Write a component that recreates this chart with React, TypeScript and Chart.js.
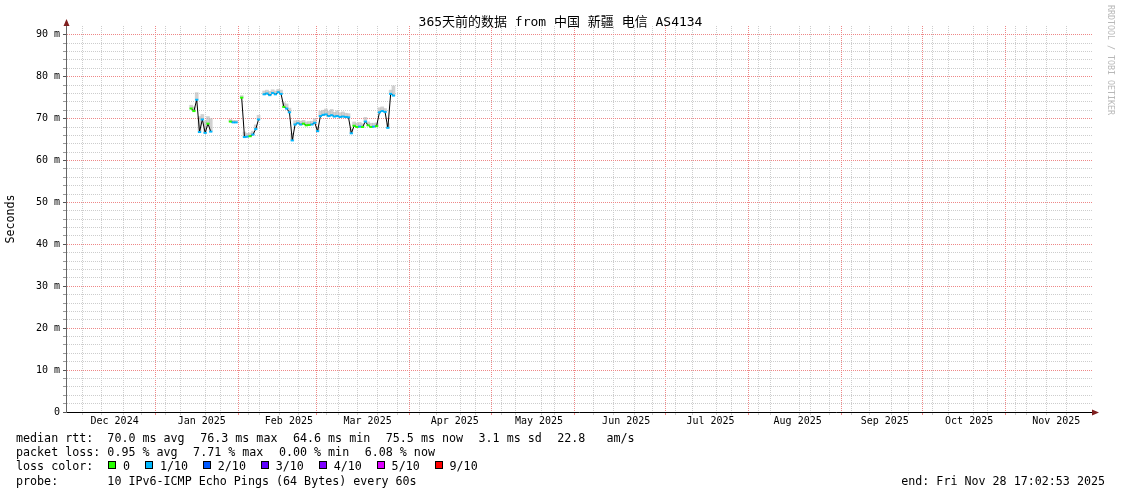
import React, { useEffect, useRef } from 'react';
import { Chart, registerables } from 'chart.js';

Chart.register(...registerables);

// ---------------- texts ----------------
const TITLE = '365天前的数据 from 中国 新疆 电信 AS4134';
const Y_TITLE = 'Seconds';
const WATERMARK = 'RRDTOOL / TOBI OETIKER';

// ---------------- time axis ----------------
const DAY_MS = 86400000;
const GRAPH_START_UTC = Date.UTC(2024, 10, 28, 17, 2, 53); // 365 days before "end"
const GRAPH_SPAN_DAYS = 365;
const MONTH_LABELS = ['Dec 2024', 'Jan 2025', 'Feb 2025', 'Mar 2025', 'Apr 2025', 'May 2025', 'Jun 2025', 'Jul 2025', 'Aug 2025', 'Sep 2025', 'Oct 2025', 'Nov 2025'];
const MONTH_YEARS = [2024, 2025, 2025, 2025, 2025, 2025, 2025, 2025, 2025, 2025, 2025, 2025];
const MONTH_INDEX = [11, 0, 1, 2, 3, 4, 5, 6, 7, 8, 9, 10];
const WEEK_STEP_DAYS = 7;
const LABEL_OFFSET_DAYS = 15;

// ---------------- value axis ----------------
const Y_MAX = 92.1;
const Y_LABELLED = [0, 10, 20, 30, 40, 50, 60, 70, 80, 90];
const Y_MINOR_STEP = 2;

// ---------------- series (one sample per day, from day 44.5 of the graph) ----------------
const SAMPLE_START_DAY = 44.5;
const SAMPLE_STEP_DAYS = 1;
const medianRtt: (number | null)[] = [
  72.4, 71.8, 74.5, 66.8, 69.8, 66.6, 68.8, 66.9, null, null,
  null, null, null, null, 69.3, 69.1, 69.1, null, 75.0, 65.6,
  65.7, 65.8, 66.2, 67.5, 69.8, null, 75.8, 76.0, 75.6, 76.1,
  75.8, 76.3, 75.9, 72.8, 72.4, 71.5, 64.8, 68.6, 68.9, 68.6,
  68.8, 68.4, 68.5, 68.6, 69.0, 67.0, 70.6, 70.9, 71.0, 70.6,
  70.8, 70.5, 70.6, 70.4, 70.5, 70.4, 70.3, 66.5, 68.3, 68.0,
  68.1, 68.0, 69.3, 68.4, 68.0, 68.1, 68.2, 71.5, 71.8, 71.6,
  67.8, 75.9, 75.5,
];
const smokeTop: (number | null)[] = [
  73.2, 72.8, 76.2, 70.5, 71.0, 69.5, 70.5, 70.0, null, null,
  null, null, null, null, 69.8, 69.6, 69.6, null, 75.5, 66.8,
  66.5, 66.6, 67.0, 68.5, 70.8, null, 76.6, 76.8, 76.5, 76.9,
  76.6, 77.0, 76.8, 73.8, 73.5, 72.5, 66.5, 69.5, 69.6, 69.4,
  69.6, 69.2, 69.3, 69.4, 70.0, 68.0, 71.8, 72.0, 72.3, 71.8,
  72.2, 71.5, 71.9, 71.4, 71.6, 71.3, 71.2, 67.5, 69.2, 68.9,
  69.1, 68.8, 70.3, 69.2, 68.9, 68.9, 69.0, 72.6, 72.8, 72.4,
  68.8, 76.8, 77.8,
];
const lossTenths: (number | null)[] = [
  0, 0, 1, 1, 1, 1, 0, 1, null, null,
  null, null, null, null, 0, 1, 1, null, 0, 1,
  1, 0, 1, 1, 1, null, 1, 1, 1, 1,
  1, 1, 1, 0, 1, 1, 1, 1, 1, 1,
  0, 0, 0, 1, 1, 1, 1, 1, 1, 1,
  1, 1, 1, 1, 1, 1, 1, 1, 0, 0,
  1, 0, 1, 0, 0, 1, 0, 1, 1, 1,
  1, 1, 1,
];

// ---------------- legend ----------------
const RTT_LEGEND = ['median rtt:  70.0 ms avg', '76.3 ms max', '64.6 ms min', '75.5 ms now', '3.1 ms sd', '22.8   am/s'];
const LOSS_LEGEND = ['packet loss: 0.95 % avg', '7.71 % max', '0.00 % min', '6.08 % now'];
const LOSS_COLOR_TITLE = 'loss color:';
const LOSS_LABELS = ['0', '1/10', '2/10', '3/10', '4/10', '5/10', '9/10'];
const LOSS_COLORS = ['#26ff00', '#00b8ff', '#0059ff', '#5e00ff', '#7e00ff', '#dd00ff', '#ff0000'];
const PROBE_LINE = 'probe:       10 IPv6-ICMP Echo Pings (64 Bytes) every 60s';
const END_TEXT = 'end: Fri Nov 28 17:02:53 2025';

// ---------------- layout / style ----------------
const W = 1121;
const H = 494;
const PLOT_LEFT = 66;
const PLOT_RIGHT = 1092;
const PLOT_TOP = 26;
const PLOT_BOTTOM = 412;
const X_AXIS_H = 20;
const MONO = '"DejaVu Sans Mono", "Noto Sans CJK SC", monospace';
const GRID_GRAY = 'rgb(205,205,205)';
const GRID_RED = 'rgb(238,135,135)';
const ARROW = '#7f1f1f';
const LEGEND_FONT = `11.68px ${MONO}`;
const LEGEND_LEFT = 16;
const LEGEND_GAP = 15.5;
const BOX_ROW_START = 108;
const BOX_ROW_GAP = 14.8;
const LINE_Y = [441.5, 456, 470, 484.5];
const BOX = 8;

function lossColor(l: number | null): string {
  if (l == null) return 'transparent';
  return LOSS_COLORS[Math.min(l, 6)];
}

function drawItems(ctx: CanvasRenderingContext2D, items: string[], y: number) {
  let x = LEGEND_LEFT;
  items.forEach((t) => {
    ctx.fillText(t, x, y);
    x += ctx.measureText(t).width + LEGEND_GAP;
  });
}

const overlayPlugin = {
  id: 'rrdOverlay',
  afterDraw(chart: any) {
    const ctx: CanvasRenderingContext2D = chart.ctx;
    ctx.save();
    ctx.fillStyle = '#000';

    // title
    ctx.font = `13px ${MONO}`;
    ctx.textAlign = 'center';
    ctx.textBaseline = 'alphabetic';
    ctx.fillText(TITLE, W / 2, 26);

    // y axis title
    ctx.save();
    ctx.translate(11, 219);
    ctx.rotate(-Math.PI / 2);
    ctx.font = LEGEND_FONT;
    ctx.textBaseline = 'middle';
    ctx.fillText(Y_TITLE, 0, 0);
    ctx.restore();

    // watermark
    ctx.save();
    ctx.translate(1110, 60);
    ctx.rotate(Math.PI / 2);
    ctx.font = `8.3px ${MONO}`;
    ctx.fillStyle = '#b8b8b8';
    ctx.textBaseline = 'middle';
    ctx.fillText(WATERMARK, 0, 0);
    ctx.restore();

    // arrows
    ctx.fillStyle = ARROW;
    ctx.beginPath();
    ctx.moveTo(PLOT_LEFT + 0.5, 19);
    ctx.lineTo(PLOT_LEFT + 3.5, 26);
    ctx.lineTo(PLOT_LEFT - 2.5, 26);
    ctx.closePath();
    ctx.fill();
    ctx.beginPath();
    ctx.moveTo(1099, PLOT_BOTTOM + 0.5);
    ctx.lineTo(1092, PLOT_BOTTOM - 2.5);
    ctx.lineTo(1092, PLOT_BOTTOM + 3.5);
    ctx.closePath();
    ctx.fill();

    // legend
    ctx.fillStyle = '#000';
    ctx.font = LEGEND_FONT;
    ctx.textAlign = 'left';
    ctx.textBaseline = 'alphabetic';
    drawItems(ctx, RTT_LEGEND, LINE_Y[0]);
    drawItems(ctx, LOSS_LEGEND, LINE_Y[1]);

    ctx.fillText(LOSS_COLOR_TITLE, LEGEND_LEFT, LINE_Y[2]);
    const space = ctx.measureText(' ').width;
    let x = BOX_ROW_START;
    LOSS_LABELS.forEach((t, i) => {
      const by = LINE_Y[2] - 9;
      const bx = Math.round(x);
      ctx.fillStyle = LOSS_COLORS[i];
      ctx.fillRect(bx, by, BOX, BOX);
      ctx.strokeStyle = '#000';
      ctx.lineWidth = 1;
      ctx.strokeRect(bx + 0.5, by + 0.5, BOX - 1, BOX - 1);
      ctx.fillStyle = '#000';
      const tx = x + BOX + space;
      ctx.fillText(t, tx, LINE_Y[2]);
      x = tx + ctx.measureText(t).width + BOX_ROW_GAP;
    });

    ctx.fillText(PROBE_LINE, LEGEND_LEFT, LINE_Y[3]);
    ctx.textAlign = 'right';
    ctx.fillText(END_TEXT, 1105, LINE_Y[3]);
    ctx.restore();
  },
};

export default function App() {
  const ref = useRef<HTMLCanvasElement>(null);

  useEffect(() => {
    const canvas = ref.current;
    if (!canvas) return;

    const monthStartDays = MONTH_YEARS.map((y, i) => (Date.UTC(y, MONTH_INDEX[i], 1) - GRAPH_START_UTC) / DAY_MS);
    const xTicks: any[] = [];
    for (let d = monthStartDays[0]; d < GRAPH_SPAN_DAYS; d += WEEK_STEP_DAYS) {
      if (!monthStartDays.some((m) => Math.abs(m - d) < 0.5)) xTicks.push({ value: d, kind: 'week' });
    }
    monthStartDays.forEach((d) => xTicks.push({ value: d, kind: 'month' }));
    monthStartDays.forEach((d, i) => xTicks.push({ value: d + LABEL_OFFSET_DAYS, kind: 'label', text: MONTH_LABELS[i] }));
    xTicks.sort((a, b) => a.value - b.value);

    const yTicks: any[] = [];
    for (let v = 0; v <= Y_LABELLED[Y_LABELLED.length - 1]; v += Y_MINOR_STEP) {
      yTicks.push({ value: v, kind: Y_LABELLED.includes(v) ? 'major' : 'minor' });
    }

    const xOf = (i: number) => SAMPLE_START_DAY + i * SAMPLE_STEP_DAYS;
    const lineData = medianRtt.map((v, i) => ({ x: xOf(i), y: v }));
    const smokeData = medianRtt.map((v, i) => ({
      x: xOf(i),
      y: v == null || smokeTop[i] == null ? null : [v, smokeTop[i]],
    }));

    const chart = new Chart(canvas, {
      type: 'line',
      data: {
        datasets: [
          {
            type: 'line',
            data: lineData,
            showLine: false,
            pointStyle: 'line',
            pointRadius: 1.6,
            pointBorderWidth: 2,
            pointBorderColor: (c: any) => lossColor(lossTenths[c.dataIndex]),
            pointBackgroundColor: 'transparent',
            order: 1,
          },
          {
            type: 'line',
            data: lineData,
            borderColor: '#000',
            borderWidth: 1,
            pointRadius: 0,
            spanGaps: false,
            tension: 0,
            order: 2,
          },
          {
            type: 'bar',
            data: smokeData as any,
            backgroundColor: 'rgba(185,185,185,0.65)',
            borderWidth: 0,
            barThickness: 3,
            order: 3,
          },
        ] as any,
      },
      options: {
        responsive: false,
        devicePixelRatio: 1,
        animation: false,
        events: [],
        layout: {
          padding: { left: 0, top: PLOT_TOP, right: W - PLOT_RIGHT, bottom: H - PLOT_BOTTOM - X_AXIS_H },
        },
        plugins: { legend: { display: false }, title: { display: false }, tooltip: { enabled: false } },
        scales: {
          x: {
            type: 'linear',
            min: 0,
            max: GRAPH_SPAN_DAYS,
            offset: false,
            afterBuildTicks: (s: any) => { s.ticks = xTicks; },
            afterFit: (s: any) => { s.height = X_AXIS_H; s.paddingLeft = 0; s.paddingRight = 0; },
            grid: {
              color: (c: any) => (c.tick?.kind === 'month' ? GRID_RED : c.tick?.kind === 'week' ? GRID_GRAY : 'transparent'),
              tickColor: (c: any) => (c.tick?.kind === 'month' ? GRID_RED : c.tick?.kind === 'week' ? GRID_GRAY : 'transparent'),
              tickLength: 3,
              lineWidth: 1,
            },
            border: { display: true, color: '#000', width: 1, dash: [1, 1] },
            ticks: {
              autoSkip: false,
              maxRotation: 0,
              minRotation: 0,
              padding: 0,
              color: '#000',
              font: { family: MONO, size: 10 },
              callback: (_v: any, i: number, ticks: any[]) => (ticks[i]?.kind === 'label' ? ticks[i].text : ''),
            },
          },
          y: {
            type: 'linear',
            min: 0,
            max: Y_MAX,
            afterBuildTicks: (s: any) => { s.ticks = yTicks; },
            afterFit: (s: any) => { s.width = PLOT_LEFT; s.paddingTop = 0; s.paddingBottom = 0; },
            grid: {
              color: (c: any) => (c.tick?.value === 0 ? 'transparent' : c.tick?.kind === 'major' ? GRID_RED : GRID_GRAY),
              tickColor: (c: any) => (c.tick?.kind === 'major' ? '#555' : '#999'),
              tickLength: 3,
              lineWidth: 1,
            },
            border: { display: true, color: '#666', width: 1, dash: [1, 1] },
            ticks: {
              autoSkip: false,
              padding: 3,
              color: '#000',
              font: { family: MONO, size: 10 },
              callback: (v: any) => (Y_LABELLED.includes(v) ? (v === 0 ? '0' : `${v} m`) : ''),
            },
          },
        },
      } as any,
      plugins: [overlayPlugin],
    });

    return () => chart.destroy();
  }, []);

  return (
    <div style={{ position: 'absolute', left: 0, top: 0, width: W, height: H, background: '#fff' }}>
      <canvas ref={ref} width={W} height={H} style={{ display: 'block', width: W, height: H }} />
    </div>
  );
}
